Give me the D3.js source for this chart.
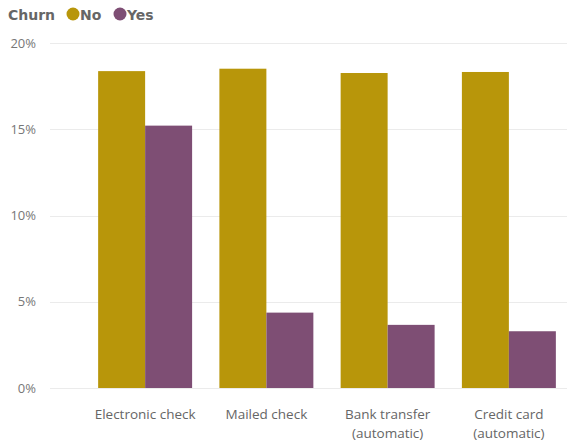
<!DOCTYPE html>
<html>
<head>
<meta charset="utf-8">
<script src="https://cdn.jsdelivr.net/npm/d3@7"></script>
<style>
  html, body { margin: 0; padding: 0; background: #fff; }
  svg { display: block; }
</style>
</head>
<body>
<svg id="chart" width="567" height="446"></svg>
<script>
// Payment methods on the x axis (second line of a label after "|")
const categories = ["Electronic check", "Mailed check", "Bank transfer|(automatic)", "Credit card|(automatic)"];
// Share of all customers, by churn status
const series = ["No", "Yes"];
const noValues = [0.1837, 0.1851, 0.1826, 0.1832];
const yesValues = [0.1521, 0.0437, 0.0366, 0.0329];
const yTicks = [0, 0.05, 0.10, 0.15, 0.20];
const colors = ["#B8960A", "#7E4E74"];

const svg = d3.select("#chart");
const font = "'Open Sans', 'Noto Sans', sans-serif";

const x = d3.scaleBand().domain(categories).range([84.5, 569.5]).paddingInner(0.225).paddingOuter(0.1125);
const xs = d3.scaleBand().domain(series).range([0, x.bandwidth()]);
const y = d3.scaleLinear().domain([0, 0.20]).range([388, 43]);

// grid lines
svg.append("g").selectAll("line").data(yTicks).join("line")
  .attr("x1", 50).attr("x2", 567)
  .attr("y1", d => Math.round(y(d)) + 0.5).attr("y2", d => Math.round(y(d)) + 0.5)
  .attr("stroke", "#ebebeb").attr("stroke-width", 1);

// y axis labels
const yAxis = svg.append("g").attr("transform", "translate(36,0)")
  .call(d3.axisLeft(y).tickValues(yTicks).tickFormat(d3.format(".0%")).tickSize(0).tickPadding(0));
yAxis.select(".domain").remove();
yAxis.selectAll("text").attr("font-family", font).attr("font-size", 13).attr("fill", "#777");

// bars
const rows = categories.map((c, i) => ({ c, vals: [noValues[i], yesValues[i]] }));
const groups = svg.append("g").selectAll("g").data(rows).join("g")
  .attr("transform", d => `translate(${x(d.c)},0)`);
groups.selectAll("rect").data(d => d.vals.map((v, j) => ({ key: series[j], v, j })))
  .join("rect")
  .attr("x", d => xs(d.key))
  .attr("width", xs.bandwidth())
  .attr("y", d => y(d.v))
  .attr("height", d => y(0) - y(d.v))
  .attr("fill", d => colors[d.j]);

// x axis labels
const xAxis = svg.append("g").attr("transform", "translate(0,388)")
  .call(d3.axisBottom(x).tickSize(0).tickFormat(""));
xAxis.select(".domain").remove();
xAxis.selectAll(".tick").each(function(d) {
  const parts = d.split("|");
  const t = d3.select(this).append("text")
    .attr("font-family", font).attr("font-size", 13.5).attr("fill", "#666")
    .attr("text-anchor", "middle");
  parts.forEach((p, i) => {
    t.append("tspan").attr("x", 0).attr("y", 30.5 + i * 19).text(p);
  });
});

// legend
const legend = svg.append("g").attr("font-family", "'DejaVu Sans', sans-serif").attr("font-weight", "bold").attr("font-size", 14);
legend.append("text").attr("x", 8).attr("y", 19.5).attr("fill", "#666").text("Churn");
const lx = [73, 120];
series.forEach((s, i) => {
  legend.append("circle").attr("cx", lx[i]).attr("cy", 14).attr("r", 6.5).attr("fill", colors[i]);
  legend.append("text").attr("x", lx[i] + 7).attr("y", 19.5).attr("fill", "#666").text(s);
});
</script>
</body>
</html>
